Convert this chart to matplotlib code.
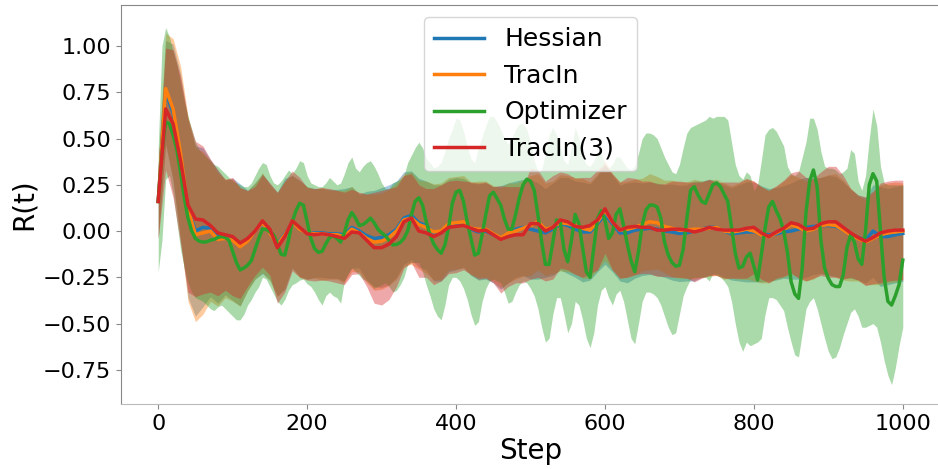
import numpy as np
import matplotlib
matplotlib.use("Agg")
import matplotlib.pyplot as plt

# Hessian / TracIn / TracIn(3) read every 10 steps, Optimizer every 5 steps
steps = np.arange(0, 1001, 10)
steps_opt = np.arange(0, 1001, 5)

hessian_mean = [
    0.16, 0.75, 0.64, 0.40, 0.12, 0.0, 0.02, 0.015, -0.03, -0.035, -0.045, -0.075, -0.05, 0.0, 0.04, -0.005, -0.07, -0.015, 0.05, 0.015, -0.01, -0.01, -0.01, -0.015, -0.015,
    -0.02, 0.02, 0.0, -0.025, -0.04, -0.035, -0.02, 0.01, 0.07, 0.085, 0.045, 0.03, -0.01, -0.01, 0.03, 0.04, 0.045, 0.01, -0.005, 0.0, -0.02, -0.035, -0.01, 0.01, 0.02,
    0.01, 0.0, -0.01, 0.01, 0.04, 0.03, 0.01, -0.005, -0.005, 0.04, 0.09, 0.04, -0.01, -0.01, 0.005, 0.01, 0.015, 0.01, 0.0, -0.005, -0.013, -0.01, 0.0, 0.01, 0.02, 0.02,
    0.0, -0.015, -0.01, -0.005, -0.005, -0.015, -0.02, -0.015, -0.005, 0.0, 0.01, 0.02, 0.025, 0.03, 0.03, 0.025, 0.005, -0.015, -0.035, -0.05, 0.0, -0.03, -0.03, -0.02, -0.013,
]
tracin_mean = [
    0.16, 0.77, 0.66, 0.42, 0.12, -0.02, -0.01, 0.0, -0.045, -0.04, -0.05, -0.085, -0.055, 0.0, 0.045, -0.01, -0.075, -0.02, 0.05, 0.01, -0.01, -0.015, -0.015, -0.02, -0.02,
    -0.03, 0.01, -0.01, -0.04, -0.06, -0.055, -0.035, 0.0, 0.06, 0.07, 0.035, 0.02, -0.005, 0.0, 0.04, 0.045, 0.05, 0.015, 0.01, 0.01, -0.015, -0.035, -0.01, 0.0, 0.015,
    0.03, 0.05, 0.01, 0.02, 0.045, 0.04, 0.03, 0.015, 0.005, 0.05, 0.11, 0.05, 0.005, 0.01, 0.02, 0.035, 0.05, 0.045, 0.025, 0.015, 0.005, 0.005, 0.01, 0.01, 0.015, 0.02,
    0.0, -0.005, 0.0, 0.01, 0.0, -0.02, -0.03, -0.01, 0.01, 0.035, 0.02, 0.0, 0.01, 0.03, 0.035, 0.03, 0.005, -0.02, -0.04, -0.06, -0.04, -0.02, -0.01, -0.005, 0.0,
]
tracin3_mean = [
    0.16, 0.66, 0.58, 0.38, 0.14, 0.065, 0.06, 0.03, -0.01, -0.02, -0.03, -0.065, -0.04, 0.0, 0.055, 0.01, -0.09, -0.03, 0.055, 0.02, -0.015, -0.02, -0.015, -0.02, -0.03,
    -0.04, -0.005, -0.01, -0.05, -0.09, -0.09, -0.07, -0.03, 0.05, 0.07, 0.0, -0.01, -0.03, -0.01, 0.02, 0.025, 0.03, 0.015, 0.0, 0.005, -0.02, -0.045, -0.03, -0.02, -0.02,
    0.04, 0.04, 0.0, 0.02, 0.06, 0.05, 0.025, 0.02, 0.03, 0.06, 0.12, 0.05, 0.005, 0.02, 0.025, 0.02, 0.02, 0.005, 0.005, 0.01, 0.01, 0.005, -0.005, 0.005, 0.02, 0.01,
    0.005, 0.005, 0.005, 0.015, 0.02, -0.01, -0.03, -0.005, 0.015, 0.045, 0.035, 0.01, 0.015, 0.04, 0.05, 0.05, 0.02, -0.01, -0.035, -0.055, -0.035, -0.01, 0.0, 0.005, 0.005,
]

hessian_std = [
    0.2, 0.28, 0.37, 0.45, 0.48, 0.46, 0.43, 0.37, 0.36, 0.31, 0.33, 0.33, 0.27, 0.26, 0.27, 0.26, 0.28, 0.3, 0.25, 0.26, 0.25, 0.24, 0.24, 0.24, 0.24,
    0.25, 0.22, 0.2, 0.24, 0.26, 0.27, 0.27, 0.26, 0.25, 0.24, 0.24, 0.24, 0.26, 0.26, 0.25, 0.25, 0.24, 0.25, 0.26, 0.26, 0.26, 0.28, 0.27, 0.26, 0.26,
    0.27, 0.26, 0.24, 0.25, 0.25, 0.26, 0.26, 0.27, 0.26, 0.26, 0.27, 0.26, 0.26, 0.27, 0.26, 0.25, 0.25, 0.25, 0.25, 0.26, 0.26, 0.26, 0.27, 0.26, 0.26, 0.25,
    0.25, 0.25, 0.26, 0.27, 0.27, 0.26, 0.25, 0.25, 0.25, 0.26, 0.27, 0.27, 0.26, 0.26, 0.27, 0.27, 0.26, 0.24, 0.23, 0.23, 0.25, 0.27, 0.26, 0.26, 0.26,
]
tracin_std = [
    0.2, 0.3, 0.38, 0.47, 0.5, 0.47, 0.44, 0.38, 0.36, 0.32, 0.33, 0.32, 0.27, 0.26, 0.27, 0.26, 0.28, 0.29, 0.25, 0.26, 0.25, 0.24, 0.25, 0.24, 0.24,
    0.25, 0.23, 0.21, 0.24, 0.26, 0.26, 0.26, 0.26, 0.25, 0.25, 0.24, 0.25, 0.26, 0.26, 0.25, 0.25, 0.25, 0.25, 0.26, 0.26, 0.26, 0.27, 0.27, 0.26, 0.26,
    0.27, 0.26, 0.25, 0.25, 0.26, 0.26, 0.26, 0.27, 0.26, 0.26, 0.27, 0.26, 0.26, 0.26, 0.26, 0.25, 0.26, 0.25, 0.25, 0.26, 0.26, 0.26, 0.27, 0.26, 0.26, 0.26,
    0.26, 0.25, 0.26, 0.27, 0.27, 0.26, 0.25, 0.25, 0.26, 0.27, 0.27, 0.27, 0.27, 0.26, 0.27, 0.28, 0.27, 0.25, 0.23, 0.23, 0.25, 0.27, 0.27, 0.27, 0.26,
]
tracin3_std = [
    0.2, 0.33, 0.4, 0.45, 0.47, 0.42, 0.4, 0.36, 0.34, 0.3, 0.32, 0.3, 0.26, 0.24, 0.25, 0.25, 0.3, 0.3, 0.27, 0.27, 0.25, 0.25, 0.25, 0.25, 0.25,
    0.25, 0.23, 0.22, 0.25, 0.3, 0.31, 0.3, 0.27, 0.25, 0.24, 0.25, 0.24, 0.26, 0.26, 0.25, 0.25, 0.24, 0.25, 0.26, 0.26, 0.26, 0.29, 0.27, 0.26, 0.26,
    0.3, 0.29, 0.27, 0.28, 0.26, 0.26, 0.26, 0.27, 0.26, 0.27, 0.24, 0.26, 0.26, 0.27, 0.26, 0.25, 0.25, 0.25, 0.25, 0.26, 0.26, 0.26, 0.27, 0.26, 0.26, 0.25,
    0.26, 0.26, 0.26, 0.27, 0.25, 0.25, 0.25, 0.25, 0.26, 0.27, 0.29, 0.28, 0.27, 0.28, 0.3, 0.3, 0.28, 0.24, 0.23, 0.24, 0.25, 0.27, 0.27, 0.27, 0.27,
]

optimizer_mean = [
    0.16, 0.42, 0.59, 0.58, 0.52, 0.44, 0.32, 0.18, 0.07, 0.0, -0.04, -0.055, -0.06, -0.058, -0.05, -0.045, -0.035, -0.03, -0.035, -0.05,
    -0.11, -0.17, -0.21, -0.2, -0.185, -0.16, -0.1, -0.04, 0.01, 0.01, -0.005, -0.02, -0.07, -0.125, -0.13, -0.05, 0.05, 0.11, 0.15, 0.14,
    0.05, -0.04, -0.095, -0.115, -0.11, -0.07, -0.035, -0.025, -0.04, -0.06, -0.01, 0.06, 0.1, 0.07, 0.03, 0.035, 0.05, 0.07, 0.045, 0.01,
    -0.01, -0.025, -0.05, -0.075, -0.072, -0.062, -0.04, 0.0, 0.086, 0.16, 0.18, 0.14, 0.05, -0.02, -0.07, -0.1, -0.12, -0.076, 0.02, 0.15,
    0.21, 0.22, 0.16, 0.05, -0.04, -0.13, -0.12, -0.02, 0.09, 0.19, 0.21, 0.176, 0.14, 0.065, 0.01, 0.01, 0.09, 0.18, 0.25, 0.28,
    0.27, 0.22, 0.086, -0.058, -0.18, -0.18, -0.06, 0.06, 0.05, -0.1, -0.166, -0.05, 0.09, 0.04, -0.09, -0.22, -0.25, -0.09, 0.068, 0.11,
    0.06, -0.04, -0.01, 0.09, 0.12, 0.03, -0.07, -0.16, -0.22, -0.112, 0.032, 0.113, 0.14, 0.14, 0.13, 0.07, -0.06, -0.13, -0.17, -0.19,
    -0.185, -0.1, 0.068, 0.22, 0.24, 0.195, 0.16, 0.15, 0.2, 0.25, 0.26, 0.24, 0.2, 0.16, 0.02, -0.12, -0.2, -0.19, -0.14, -0.12,
    -0.19, -0.265, -0.13, 0.014, 0.13, 0.16, 0.11, 0.068, 0.0, -0.112, -0.274, -0.34, -0.364, -0.2, 0.1, 0.27, 0.33, 0.24, -0.05, -0.2,
    -0.256, -0.29, -0.3, -0.3, -0.238, -0.09, -0.02, -0.06, -0.15, -0.18, 0.0, 0.25, 0.31, 0.27, 0.0, -0.25, -0.38, -0.4, -0.35, -0.29,
    -0.157,
]
optimizer_upper = [
    0.45, 1.0, 1.1, 1.05, 0.97, 0.9, 0.8, 0.7, 0.62, 0.55, 0.48, 0.44, 0.42, 0.4, 0.38, 0.36, 0.35, 0.33, 0.31, 0.29,
    0.27, 0.26, 0.25, 0.24, 0.24, 0.26, 0.3, 0.34, 0.37, 0.36, 0.3, 0.26, 0.25, 0.27, 0.3, 0.33, 0.31, 0.34, 0.38, 0.37,
    0.30, 0.26, 0.25, 0.24, 0.24, 0.26, 0.29, 0.27, 0.25, 0.26, 0.31, 0.37, 0.40, 0.34, 0.32, 0.35, 0.37, 0.38, 0.35, 0.31,
    0.26, 0.23, 0.23, 0.26, 0.27, 0.28, 0.30, 0.37, 0.41, 0.45, 0.48, 0.45, 0.39, 0.37, 0.34, 0.35, 0.37, 0.43, 0.50, 0.55,
    0.61, 0.60, 0.54, 0.46, 0.39, 0.37, 0.45, 0.51, 0.57, 0.62, 0.62, 0.59, 0.55, 0.5, 0.47, 0.5, 0.55, 0.58, 0.58, 0.55,
    0.48, 0.38, 0.32, 0.33, 0.42, 0.52, 0.56, 0.52, 0.45, 0.38, 0.36, 0.45, 0.56, 0.5, 0.4, 0.36, 0.35, 0.38, 0.42, 0.42,
    0.36, 0.34, 0.36, 0.4, 0.4, 0.37, 0.34, 0.33, 0.35, 0.42, 0.5, 0.53, 0.53, 0.52, 0.5, 0.45, 0.4, 0.36, 0.32, 0.31,
    0.36, 0.45, 0.53, 0.56, 0.57, 0.58, 0.59, 0.6, 0.62, 0.61, 0.62, 0.62, 0.62, 0.6, 0.48, 0.36, 0.3, 0.28, 0.32, 0.3,
    0.22, 0.25, 0.38, 0.52, 0.55, 0.56, 0.54, 0.5, 0.46, 0.35, 0.31, 0.3, 0.32, 0.4, 0.48, 0.61, 0.61, 0.55, 0.43, 0.35,
    0.34, 0.34, 0.33, 0.31, 0.32, 0.34, 0.44, 0.42, 0.27, 0.22, 0.3, 0.5, 0.66, 0.57, 0.35, 0.26, 0.25, 0.25, 0.25, 0.25,
    0.25,
]
optimizer_lower = [
    -0.22, -0.05, 0.28, 0.3, 0.2, 0.05, -0.1, -0.2, -0.28, -0.33, -0.36, -0.37, -0.38, -0.4, -0.42, -0.43, -0.41, -0.4, -0.42, -0.44,
    -0.46, -0.48, -0.48, -0.45, -0.4, -0.37, -0.33, -0.3, -0.25, -0.26, -0.3, -0.34, -0.38, -0.4, -0.37, -0.32, -0.29, -0.28, -0.265, -0.26,
    -0.285, -0.30, -0.33, -0.37, -0.4, -0.35, -0.33, -0.35, -0.36, -0.39, -0.27, -0.23, -0.2, -0.22, -0.24, -0.26, -0.27, -0.29, -0.31, -0.30,
    -0.29, -0.28, -0.30, -0.33, -0.32, -0.29, -0.25, -0.18, -0.17, -0.17, -0.17, -0.22, -0.29, -0.35, -0.42, -0.46, -0.48, -0.4, -0.29, -0.25,
    -0.25, -0.27, -0.31, -0.37, -0.45, -0.51, -0.49, -0.38, -0.31, -0.27, -0.26, -0.27, -0.28, -0.33, -0.39, -0.38, -0.33, -0.29, -0.27, -0.28,
    -0.31, -0.35, -0.42, -0.52, -0.6, -0.58, -0.45, -0.36, -0.36, -0.45, -0.55, -0.5, -0.38, -0.4, -0.48, -0.58, -0.63, -0.55, -0.4, -0.32,
    -0.3, -0.36, -0.4, -0.34, -0.32, -0.38, -0.48, -0.58, -0.61, -0.5, -0.38, -0.33, -0.33, -0.34, -0.36, -0.4, -0.46, -0.52, -0.56, -0.55,
    -0.45, -0.35, -0.3, -0.26, -0.25, -0.25, -0.25, -0.25, -0.27, -0.23, -0.24, -0.25, -0.27, -0.3, -0.38, -0.5, -0.6, -0.65, -0.6, -0.62,
    -0.61, -0.6, -0.58, -0.45, -0.36, -0.36, -0.37, -0.4, -0.43, -0.52, -0.6, -0.67, -0.68, -0.55, -0.42, -0.38, -0.36, -0.42, -0.5, -0.58,
    -0.65, -0.69, -0.68, -0.63, -0.56, -0.5, -0.44, -0.42, -0.46, -0.52, -0.52, -0.51, -0.5, -0.52, -0.6, -0.7, -0.78, -0.83, -0.74, -0.62,
    -0.52,
]

labels = ["Hessian", "TracIn", "Optimizer", "TracIn(3)"]
colors = ["#1f77b4", "#ff7f0e", "#2ca02c", "#d62728"]

fig = plt.figure(figsize=(9.38, 4.69), dpi=100)
ax = fig.add_axes([121 / 938, 65 / 469, 819 / 938, 399 / 469])

# shaded bands
for m, s, c in [(hessian_mean, hessian_std, colors[0]), (tracin_mean, tracin_std, colors[1])]:
    m, s = np.array(m), np.array(s)
    ax.fill_between(steps, m - s, m + s, color=c, alpha=0.4, linewidth=0, zorder=1)
ax.fill_between(steps_opt, optimizer_lower, optimizer_upper, color=colors[2], alpha=0.4, linewidth=0, zorder=1)
m, s = np.array(tracin3_mean), np.array(tracin3_std)
ax.fill_between(steps, m - s, m + s, color=colors[3], alpha=0.4, linewidth=0, zorder=1)

# mean lines
ax.plot(steps, hessian_mean, color=colors[0], lw=2.5, label=labels[0], zorder=3)
ax.plot(steps, tracin_mean, color=colors[1], lw=2.5, label=labels[1], zorder=3)
ax.plot(steps_opt, optimizer_mean, color=colors[2], lw=2.5, label=labels[2], zorder=3)
ax.plot(steps, tracin3_mean, color=colors[3], lw=2.5, label=labels[3], zorder=3)

ax.set_xlim(-50, 1050)
ax.set_ylim(-0.935, 1.222)
ax.set_xticks([0, 200, 400, 600, 800, 1000])
ax.set_yticks([-0.75, -0.5, -0.25, 0, 0.25, 0.5, 0.75, 1.0])
ax.tick_params(labelsize=16, color="#888888")
ax.set_xlabel("Step", fontsize=20, labelpad=2)
ax.set_ylabel("R(t)", fontsize=20)
for side in ["left", "top", "right"]:
    ax.spines[side].set_color("#888888")
ax.spines["bottom"].set_color("#bbbbbb")

leg = ax.legend(loc="upper center", fontsize=18)
for line in leg.get_lines():
    line.set_linewidth(2.5)

fig.savefig("out.png", dpi=100)
